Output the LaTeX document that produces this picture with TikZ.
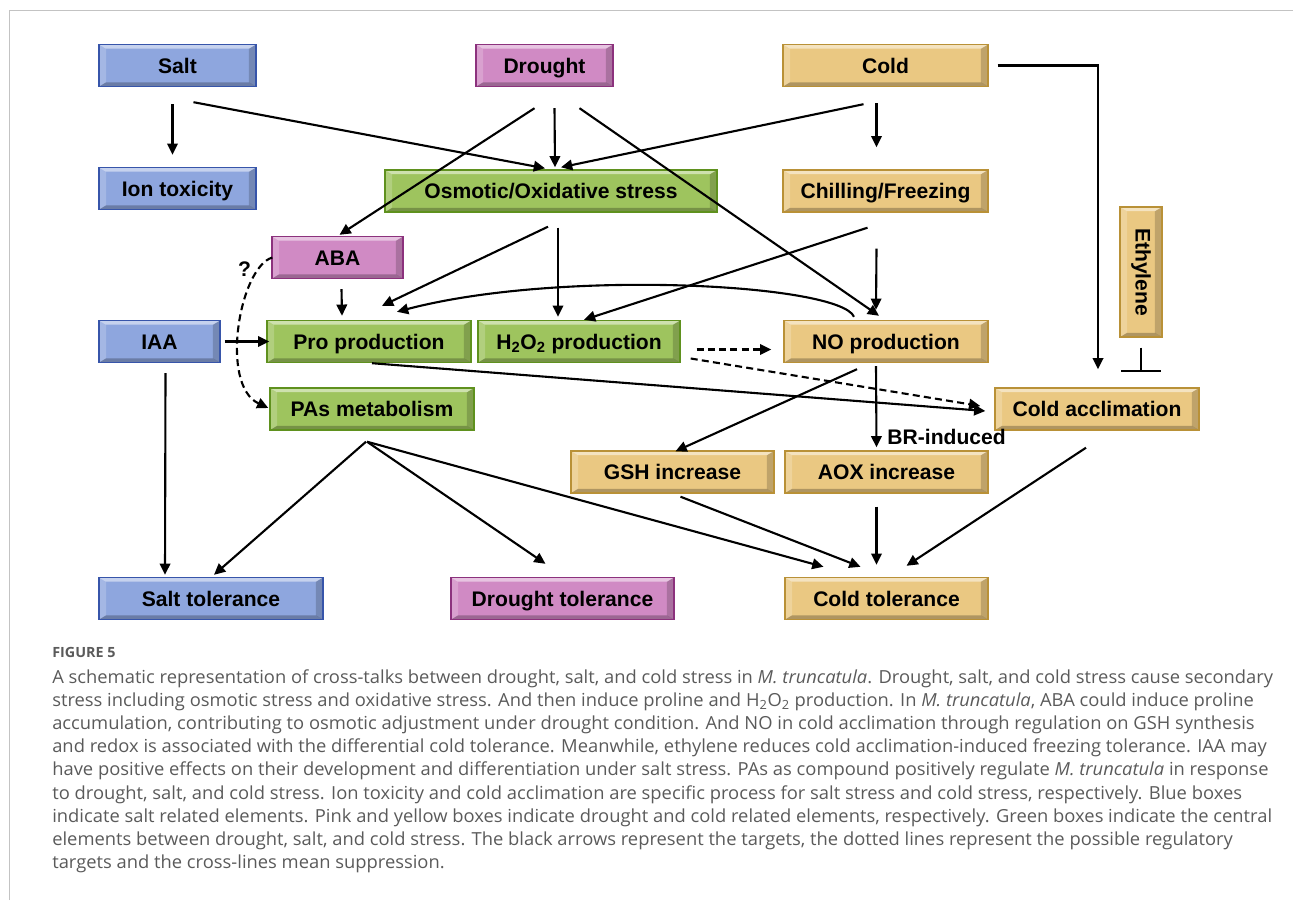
\documentclass[tikz,border=0pt]{standalone}
\usepackage{fontspec}
\usepackage{graphicx}
\setmainfont{Liberation Sans}
\newfontfamily\capfont[FakeStretch=1.02]{Open Sans}
\usetikzlibrary{arrows.meta}

\definecolor{saltfill}{RGB}{142,166,222}
\definecolor{saltline}{RGB}{55,85,170}
\definecolor{drfill}{RGB}{208,138,196}
\definecolor{drline}{RGB}{140,50,125}
\definecolor{coldfill}{RGB}{234,200,130}
\definecolor{coldline}{RGB}{185,145,55}
\definecolor{cenfill}{RGB}{158,196,94}
\definecolor{cenline}{RGB}{95,145,30}
\definecolor{framegray}{RGB}{195,195,195}
\definecolor{capgray}{RGB}{90,90,90}

\tikzset{
  bevel/.style={path picture={
    \fill[white, opacity=.5] (path picture bounding box.north west) -- (path picture bounding box.north east)
      -- ([shift={(-5pt,-3pt)}]path picture bounding box.north east) -- ([shift={(5pt,-3pt)}]path picture bounding box.north west) -- cycle;
    \fill[black, opacity=.25] (path picture bounding box.south west) -- (path picture bounding box.south east)
      -- ([shift={(-5pt,3pt)}]path picture bounding box.south east) -- ([shift={(5pt,3pt)}]path picture bounding box.south west) -- cycle;
    \fill[white, opacity=.2] (path picture bounding box.north west) -- ([shift={(5pt,-3pt)}]path picture bounding box.north west)
      -- ([shift={(5pt,3pt)}]path picture bounding box.south west) -- (path picture bounding box.south west) -- cycle;
    \fill[black, opacity=.18] (path picture bounding box.north east) -- ([shift={(-5pt,-3pt)}]path picture bounding box.north east)
      -- ([shift={(-5pt,3pt)}]path picture bounding box.south east) -- (path picture bounding box.south east) -- cycle;
  }},
  wd/.style={minimum width=#1*0.025cm},
  ht/.style={minimum height=#1*0.025cm},
  box/.style={draw, line width=1pt, bevel, ht=42, inner sep=0pt,
    text height=12.5pt, text depth=1.8pt,
    font=\bfseries\fontsize{15}{18}\selectfont},
  saltbox/.style={box, fill=saltfill, draw=saltline},
  drbox/.style={box, fill=drfill, draw=drline},
  coldbox/.style={box, fill=coldfill, draw=coldline},
  cenbox/.style={box, fill=cenfill, draw=cenline},
  arr/.style={-{Triangle[length=8pt,width=7.5pt]}, line width=1.5pt},
  darr/.style={arr, dash pattern=on 5pt off 3pt},
  inhib/.style={-{Bar[width=28pt]}, line width=1.5pt},
  qmark/.style={font=\bfseries\fontsize{15}{18}\selectfont},
  brlabel/.style={font=\bfseries\fontsize{15}{18}\selectfont},
  figlabel/.style={inner sep=0pt, text=capgray, font=\capfont\bfseries\fontsize{10}{12}\selectfont},
  caption/.style={inner sep=0pt, align=left, text=capgray, font=\capfont\fontsize{12.8}{16.5}\selectfont}
}

\begin{document}
\begin{tikzpicture}[x=0.025cm, y=-0.025cm]
\useasboundingbox (0,0) rectangle (1293,900);
\draw[framegray, line width=1pt] (9.5,900) -- (9.5,10.5) -- (1293,10.5);

% stresses
\node[saltbox, wd=157] (salt) at (177.5,65.5) {Salt};
\node[drbox, wd=137] (drought) at (544.5,65.5) {Drought};
\node[coldbox, wd=205] (cold) at (885.5,65.5) {Cold};

% secondary effects
\node[saltbox, wd=157] (ion) at (177.5,188.5) {Ion toxicity};
\node[cenbox, wd=332] (osm) at (551,191) {Osmotic/Oxidative stress};
\node[coldbox, wd=205] (chill) at (885.5,191) {Chilling/Freezing};
\node[coldbox, wd=42, ht=130, text height={}, text depth={}] (eth) at (1141,272) {\rotatebox{-90}{Ethylene}};
\node[drbox, wd=131] (aba) at (337.5,257.5) {ABA};

% responses
\node[saltbox, wd=121] (iaa) at (159.5,341.5) {IAA};
\node[cenbox, wd=204] (pro) at (369,341.5) {Pro production};
\node[cenbox, wd=202] (hoo) at (579,341.5) {H\textsubscript{2}O\textsubscript{2} production};
\node[coldbox, wd=204] (no) at (886,341.5) {NO production};
\node[cenbox, wd=204] (pas) at (372,409) {PAs metabolism};
\node[coldbox, wd=204] (accl) at (1097,409) {Cold acclimation};
\node[coldbox, wd=203] (gsh) at (672.5,472) {GSH increase};
\node[coldbox, wd=203] (aox) at (886.5,472) {AOX increase};

% tolerance
\node[saltbox, wd=224] (salttol) at (211,598.5) {Salt tolerance};
\node[drbox, wd=223] (drtol) at (562.5,598.5) {Drought tolerance};
\node[coldbox, wd=203] (coldtol) at (886.5,598.5) {Cold tolerance};

\draw[arr] ([shift={(-5,17)}]salt.south) -- ([shift={(-5,-12)}]ion.north);
\draw[arr] ([shift={(16,15)}]salt.south) -- ([shift={(-6,-1)}]osm.north);
\draw[arr] ([shift={(10,21)}]drought.south) -- ([shift={(4,-2)}]osm.north);
\draw[arr] ([shift={(-10,21)}]drought.south) -- ([shift={(2,-1)}]aba.north);
\draw[arr] ([shift={(35,21)}]drought.south) -- ([shift={(-7,-4)}]no.north);
\draw[arr] ([shift={(-22,17)}]cold.south) -- ([shift={(10,-2)}]osm.north);
\draw[arr] ([shift={(-9,16)}]cold.south) -- ([shift={(-9,-22)}]chill.north);
\draw[arr] ([shift={(9,0)}]cold.east) -| ([shift={(1,-18)}]accl.north);
\draw[inhib] ([shift={(0,10)}]eth.south) -- ([shift={(44,-15)}]accl.north);

\draw[arr] ([shift={(-9,36)}]chill.south) -- ([shift={(-10,-10)}]no.north);
\draw[arr] ([shift={(-18,15)}]chill.south) -- ([shift={(5,0)}]hoo.north);
\draw[arr] ([shift={(-3,14)}]osm.south) -- ([shift={(13,-14)}]pro.north);
\draw[arr] ([shift={(7,15)}]osm.south) -- ([shift={(-21,-3)}]hoo.north);
\draw[arr] ([shift={(4,10)}]aba.south) -- ([shift={(-27,-4)}]pro.north);
\draw[arr] ([shift={(-32,-3)}]no.north) .. controls +(-14,-33) and +(163,-43) .. ([shift={(28,-8)}]pro.north);
\draw[arr] ([shift={(4,0)}]iaa.east) -- ([shift={(3,0)}]pro.west);
\draw[darr] ([shift={(1,0)}]aba.west) .. controls +(-33,10) and +(-49,-23) .. ([shift={(-1,-1)}]pas.west)
  node[qmark, pos=0.05, anchor=north east, inner sep=1pt, xshift=-10pt, yshift=0pt] (qm) {?};

\draw[darr] ([shift={(16,8)}]hoo.east) -- ([shift={(-12,8)}]no.west);
\draw[darr] ([shift={(10,17)}]hoo.east) -- ([shift={(-14,-3)}]accl.west);
\draw[arr] ([shift={(3,0)}]pro.south) -- ([shift={(-9,2)}]accl.west);
\draw[arr] ([shift={(-29,6)}]no.south) -- ([shift={(3,1)}]gsh.north);
\draw[arr] ([shift={(-10,3)}]no.south) -- ([shift={(-10,-3)}]aox.north)
  node[brlabel, at end, anchor=south west, inner sep=1pt, xshift=6pt] (br) {BR-induced};

\draw[arr] ([shift={(-6,11)}]pas.south) -- ([shift={(3,-2)}]salttol.north);
\draw[arr] ([shift={(-5,11)}]pas.south) -- ([shift={(-17,-13)}]drtol.north);
\draw[arr] ([shift={(-5,11)}]pas.south) -- ([shift={(-63,-10)}]coldtol.north);
\draw[arr] ([shift={(8,3)}]gsh.south) -- ([shift={(-26,-10)}]coldtol.north);
\draw[arr] ([shift={(-10,13)}]aox.south) -- ([shift={(-10,-12)}]coldtol.north);
\draw[arr] ([shift={(-11,17)}]accl.south) -- ([shift={(20,-11)}]coldtol.north);
\draw[arr] ([shift={(6,10)}]iaa.south) -- ([shift={(-46,-2)}]salttol.north);

% caption
\node[figlabel, anchor=west] (figno) at (52,652) {FIGURE 5};
\node[caption, anchor=north west] (cap) at (52,669) {%
A schematic representation of cross-talks between drought, salt, and cold stress in \textit{M. truncatula}. Drought, salt, and cold stress cause secondary\\
stress including osmotic stress and oxidative stress. And then induce proline and H\textsubscript{2}O\textsubscript{2} production. In \textit{M. truncatula}, ABA could induce proline\\
accumulation, contributing to osmotic adjustment under drought condition. And NO in cold acclimation through regulation on GSH synthesis\\
and redox is associated with the differential cold tolerance. Meanwhile, ethylene reduces cold acclimation-induced freezing tolerance. IAA may\\
have positive effects on their development and differentiation under salt stress. PAs as compound positively regulate \textit{M. truncatula} in response\\
to drought, salt, and cold stress. Ion toxicity and cold acclimation are specific process for salt stress and cold stress, respectively. Blue boxes\\
indicate salt related elements. Pink and yellow boxes indicate drought and cold related elements, respectively. Green boxes indicate the central\\
elements between drought, salt, and cold stress. The black arrows represent the targets, the dotted lines represent the possible regulatory\\
targets and the cross-lines mean suppression.};
\end{tikzpicture}
\end{document}
